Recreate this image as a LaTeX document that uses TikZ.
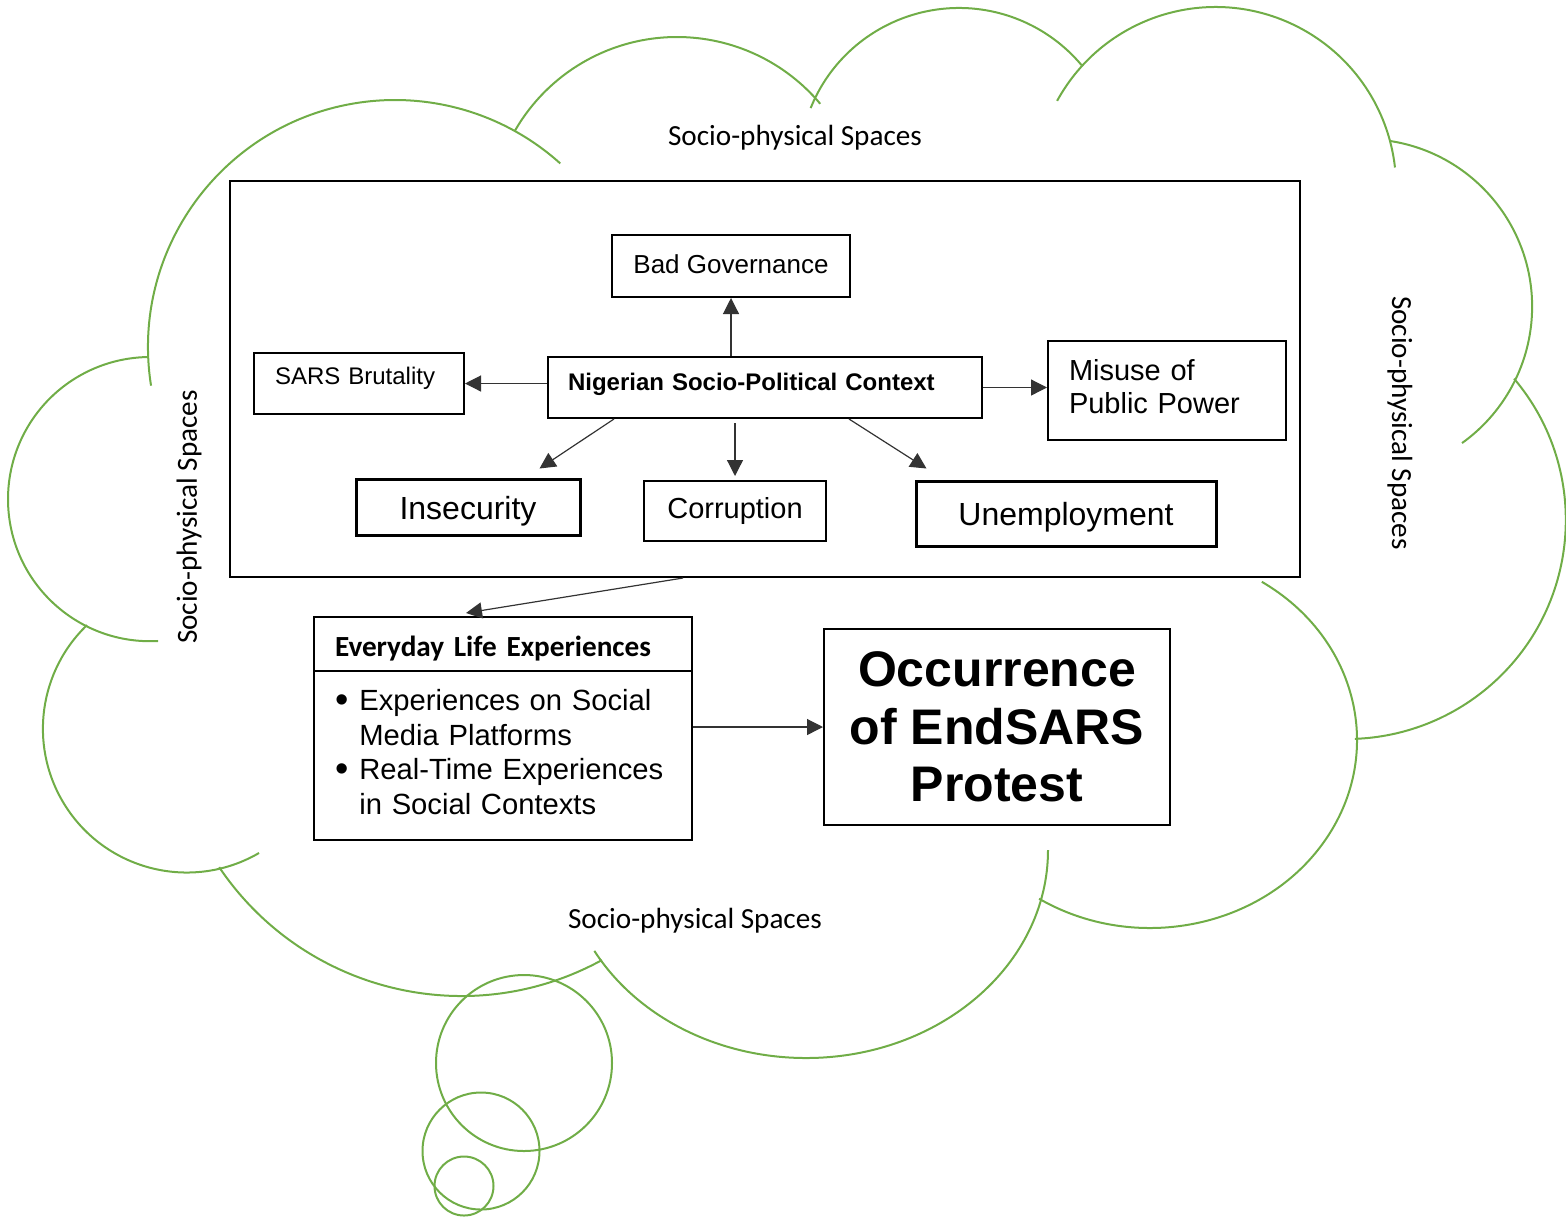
\documentclass[tikz,border=0pt]{standalone}
\usepackage{fontspec}
\setmainfont{Liberation Sans}
\newfontfamily\calibri{Carlito}
\usetikzlibrary{arrows.meta, positioning}
\definecolor{cloudgreen}{HTML}{70AD47}
\tikzstyle{box} = [rectangle, draw=black, line width=1pt, inner sep=0pt]
\tikzstyle{thickbox} = [box, line width=1.5pt]
\tikzstyle{arrow} = [line width=0.6pt, draw=black!80, -{Triangle[length=8pt,width=8pt]}]
\tikzstyle{cloudline} = [draw=cloudgreen, line width=1pt]
\tikzstyle{spacelabel} = [font=\calibri\fontsize{14.6}{17}\selectfont]
\newcommand{\bigbullet}{\raisebox{-1pt}{\fontsize{19}{17}\selectfont\textbullet}}
\newcommand{\nudge}[2]{\raisebox{#1}[\height][\depth]{#2}}

\begin{document}
\begin{tikzpicture}[x=0.5pt, y=-0.5pt]
\useasboundingbox (0,0) rectangle (1566,1217);

% cloud
\draw [cloudline] (395,347) ++(171:247) arc[start angle=171, end angle=312, radius=247];
\draw [cloudline] (677,224) ++(210:187) arc[start angle=210, end angle=320, radius=187];
\draw [cloudline] (959,168) ++(202:160) arc[start angle=202, end angle=320, radius=160];
\draw [cloudline] (1215.5,187.6) ++(208.7:180.6) arc[start angle=208.7, end angle=353.6, radius=180.6];
\draw [cloudline] (1364.4,306.7) ++(-81.2:167.7) arc[start angle=-81.2, end angle=54.4, radius=167.7];
\draw [cloudline] (1346.8,520) ++(-40.2:219) arc[start angle=-40.2, end angle=87.9, radius=219];
\draw [cloudline] (1150,740) ++(-57.3:207 and 188) arc[start angle=-57.3, end angle=122.4, x radius=207, y radius=188];
\draw [cloudline] (806,850) ++(0:242 and 208) arc[start angle=0, end angle=151, x radius=242, y radius=208];
\draw [cloudline] (461.5,703.7) ++(61.3:292.3) arc[start angle=61.3, end angle=146, radius=292.3];
\draw [cloudline] (186.7,728.7) ++(59.8:143.8) arc[start angle=59.8, end angle=226.1, radius=143.8];
\draw [cloudline] (150.1,499.1) ++(86.8:142.1) arc[start angle=86.8, end angle=269.2, radius=142.1];
% thought bubbles
\draw [cloudline] (524,1063) circle[radius=88];
\draw [cloudline] (481,1151) circle[radius=58.5];
\draw [cloudline] (464,1186) circle[radius=29.5];

\node (sp-top) [spacelabel] at (795,137.5) {Socio-physical Spaces};
\node (sp-bottom) [spacelabel] at (695,920.5) {Socio-physical Spaces};
\node (sp-left) [spacelabel, rotate=90] at (189,517) {Socio-physical Spaces};
\node (sp-right) [spacelabel, rotate=-90] at (1400,423) {Socio-physical Spaces};

% context frame and its boxes
\node (context) [box, minimum width=535pt, minimum height=198pt] at (765,379) {};
\node (badgov) [box, minimum width=119pt, minimum height=31pt, font=\fontsize{13}{15}\selectfont] at (731,266) {\nudge{1pt}{Bad Governance}};
\node (sars) [box, minimum width=105pt, minimum height=30.5pt, text width=84pt, inner xsep=10.5pt, align=left, font=\fontsize{12}{14}\selectfont] at (359,383.5) {\nudge{2.5pt}{SARS Brutality}};
\node (nsp) [box, minimum width=217pt, minimum height=30.5pt, text width=197pt, inner xsep=10pt, align=left, font=\bfseries\fontsize{12}{14}\selectfont] at (765,387.5) {\nudge{1.5pt}{Nigerian Socio-Political Context}};
\node (misuse) [box, minimum width=119pt, minimum height=49.5pt, text width=98pt, inner xsep=10.5pt, align=left, font=\fontsize{14.5}{16.8}\selectfont] at (1167,390.5) {\nudge{2pt}{\parbox[b]{98pt}{Misuse of\\Public Power}}};
\node (insec) [thickbox, minimum width=112pt, minimum height=28pt, font=\fontsize{16}{18}\selectfont] at (468,507) {\nudge{-2pt}{Insecurity}};
\node (corrupt) [box, minimum width=91pt, minimum height=30pt, font=\fontsize{14.5}{17}\selectfont] at (735,511) {Corruption};
\node (unemp) [thickbox, minimum width=150pt, minimum height=32.5pt, font=\fontsize{16}{18}\selectfont] at (1066,513.5) {\nudge{-2pt}{Unemployment}};

% everyday life and outcome
\node (ele-head) [box, minimum width=189pt, minimum height=27pt, text width=168pt, inner xsep=10.5pt, align=left, font=\calibri\bfseries\fontsize{14.6}{17}\selectfont] at (503,644) {\nudge{-2.5pt}{Everyday Life Experiences}};
\node (ele-body) [box, below=-1pt of ele-head, minimum width=189pt, minimum height=84.5pt, text width=168pt, inner xsep=10.5pt, align=left, font=\fontsize{14.6}{17.2}\selectfont] {\begin{tabular}{@{}l@{\hspace{5.5pt}}l@{}}
\bigbullet & Experiences on Social\\
 & Media Platforms\\
\bigbullet & Real-Time Experiences\\
 & in Social Contexts
\end{tabular}};
\node (occur) [box, minimum width=173pt, minimum height=98pt, align=center, font=\bfseries\fontsize{25}{28.75}\selectfont] at (997,727) {Occurrence\\of EndSARS\\Protest};

\draw [arrow] (badgov.south |- nsp.north) -- (badgov.south);
\draw [arrow] (nsp.west |- sars.east) -- (sars.east);
\draw [arrow] (nsp.east) -- (nsp.east -| misuse.west);
\draw [arrow] ([xshift=33.5pt]nsp.south west) -- ([xshift=-21pt,yshift=4.5pt]insec.north east);
\draw [arrow, shorten <=2pt, shorten >=2pt] (nsp.south -| corrupt.north) -- (corrupt.north);
\draw [arrow] ([xshift=151pt]nsp.south west) -- ([xshift=6pt,yshift=5.5pt]unemp.north west);
\draw [arrow] ([xshift=-41pt]context.south) -- ([xshift=-18.5pt,yshift=1.5pt]ele-head.north);
\draw [arrow] (ele-body.east |- occur.west) -- (occur.west);
\end{tikzpicture}
\end{document}
